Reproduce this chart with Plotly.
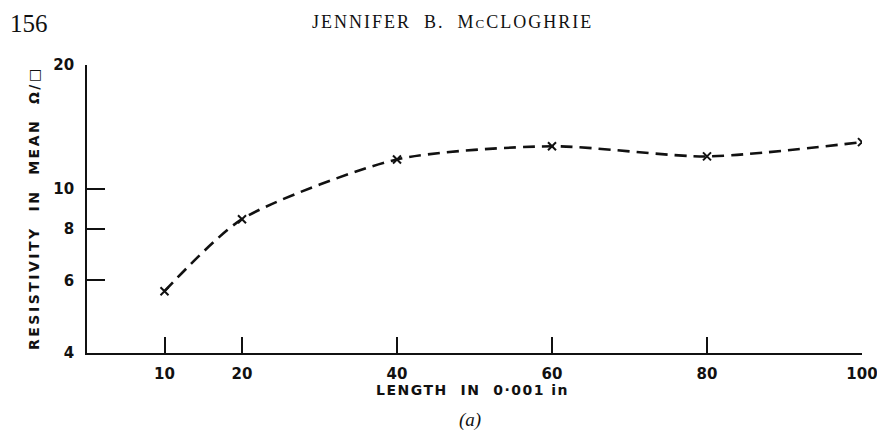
import plotly.graph_objects as go
import math

# Data
length = [10, 20, 40, 60, 80, 100]
resistivity = [5.65, 8.45, 11.8, 12.7, 12.0, 13.0]

x_ticks = [10, 20, 40, 60, 80, 100]
x_tick_text = ["10", "20", "40", "60", "80", "100"]
y_ticks = [4, 6, 8, 10, 20]
y_tick_text = ["4", "6", "8", "10", "20"]

W, H = 885, 436
OFF = 8  # page body margin
# desired plot box in screenshot pixels
X0, X1, Y0, Y1 = 87, 862, 65, 353
L = X0 - OFF
T = Y0 - OFF
R = W - (X1 - OFF)
B = H - (Y1 - OFF)
pw, ph = X1 - X0, Y1 - Y0

def px(x):
    return (x - X0) / pw

def py(y):
    return (Y1 - y) / ph

ink = "#111111"
sans = "DejaVu Sans"
serif = "Liberation Serif"

fig = go.Figure()
fig.add_trace(go.Scatter(
    x=length, y=resistivity,
    mode="lines+markers",
    line=dict(color=ink, width=2.6, dash="12px,7px", shape="spline", smoothing=0.7),
    marker=dict(symbol="x-thin", size=8, line=dict(color=ink, width=2), color=ink),
    showlegend=False,
))

fig.update_layout(
    width=W, height=H,
    margin=dict(l=L, r=R, t=T, b=B),
    paper_bgcolor="white", plot_bgcolor="white",
    xaxis=dict(
        range=[0, 100], tickmode="array", tickvals=x_ticks, ticktext=x_tick_text,
        ticks="inside", ticklen=16, tickwidth=1.5, tickcolor=ink,
        showline=True, linecolor=ink, linewidth=1.6, showgrid=False, zeroline=False,
        tickfont=dict(family=sans, size=15, color=ink, weight="bold"), ticklabelstandoff=6,
    ),
    yaxis=dict(
        type="log", range=[math.log10(4), math.log10(20)],
        tickmode="array", tickvals=y_ticks, ticktext=y_tick_text,
        ticks="inside", ticklen=18, tickwidth=1.5, tickcolor=ink,
        showline=True, linecolor=ink, linewidth=1.6, showgrid=False, zeroline=False,
        tickfont=dict(family=sans, size=15, color=ink, weight="bold"), ticklabelstandoff=8,
    ),
)

ann = [
    dict(text="156", x=px(8), y=py(24), xanchor="left", yanchor="middle",
         font=dict(family=serif, size=25, color=ink)),
    dict(text="<span style='letter-spacing:2px'>JENNIFER  B.  M<span style='font-size:13px'>C</span>CLOGHRIE</span>",
         x=px(452), y=py(22), xanchor="center", yanchor="middle",
         font=dict(family=serif, size=18, color=ink)),
    dict(text="<span style='letter-spacing:1.5px'>LENGTH  IN  0·001 in</span>", x=px(472), y=py(390),
         xanchor="center", yanchor="middle", font=dict(family=sans, size=14, color=ink, weight="bold")),
    dict(text="<i>(a)</i>", x=px(470), y=py(420), xanchor="center", yanchor="middle",
         font=dict(family=serif, size=19, color=ink)),
    dict(text="<span style='letter-spacing:2.5px'>RESISTIVITY  IN  MEAN  Ω/□</span>", x=px(34), y=py(208),
         textangle=-90, xanchor="center", yanchor="middle",
         font=dict(family=sans, size=14, color=ink, weight="bold")),
]
for a in ann:
    a.update(xref="paper", yref="paper", showarrow=False)
fig.update_layout(annotations=ann)

fig.write_html("out.html")
